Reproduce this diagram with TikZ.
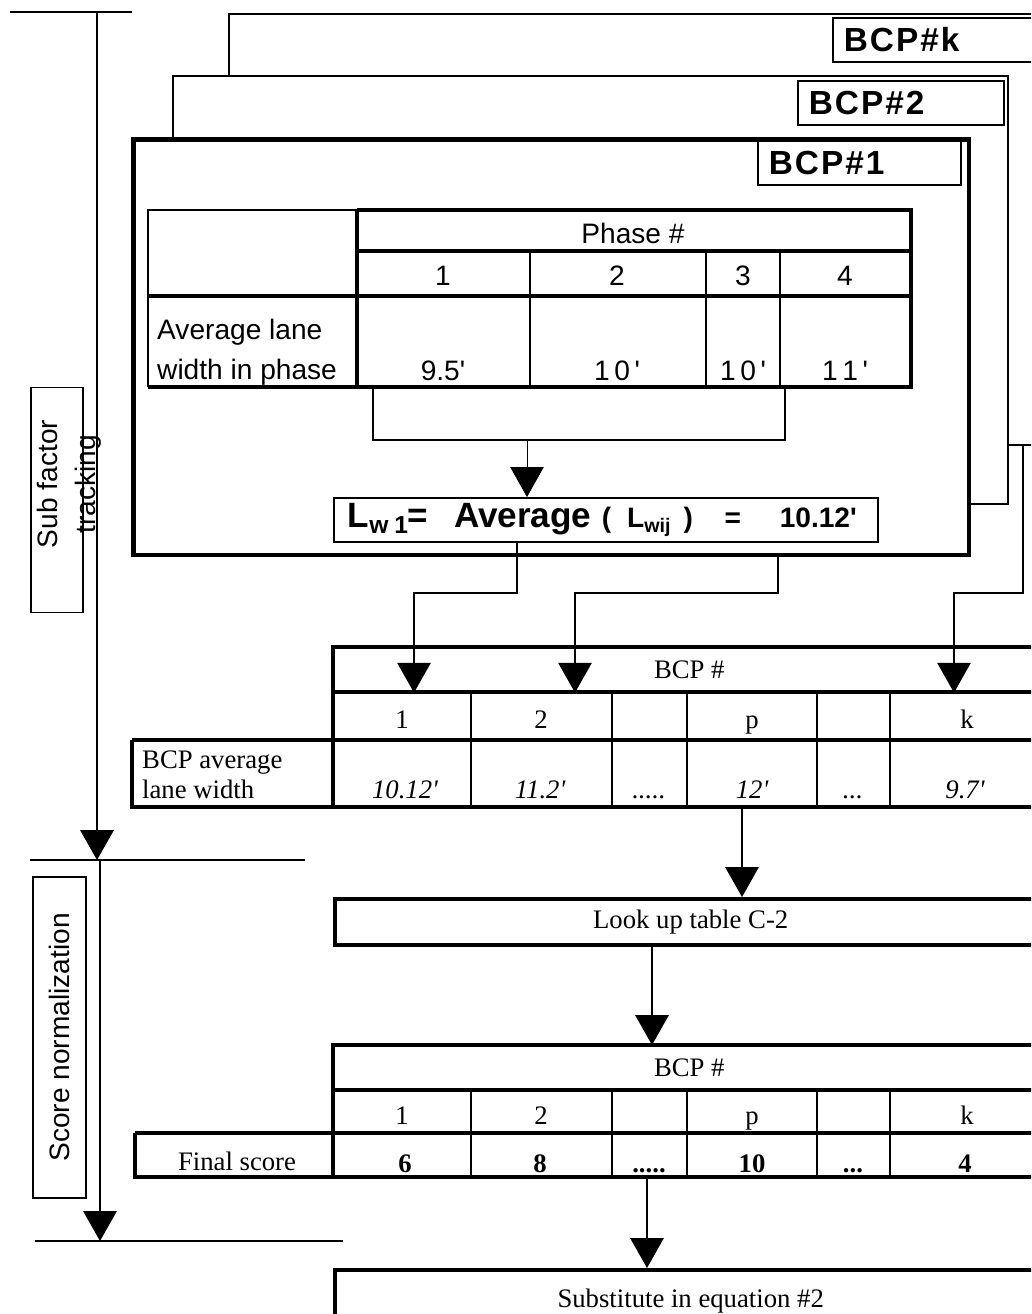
\documentclass[tikz,border=0pt]{standalone}
\usepackage{fontspec}
\setmainfont{Liberation Serif}
\setsansfont{Liberation Sans}
\newfontfamily\tagfont[LetterSpace=6]{Liberation Sans}
\newcommand\fivedots{.....}
\newcommand\threedots{...}
\newcommand\ft{\textquotesingle}
\usetikzlibrary{arrows.meta,calc}

\begin{document}
\begin{tikzpicture}[
    x=0.02cm, y=-0.02cm,
    thin rule/.style={line width=0.9pt},
    thick rule/.style={line width=2.4pt},
    link/.style={line width=0.9pt},
    arr/.style={link, -{Triangle[length=17pt,width=19pt]}},
    sanstxt/.style={font=\sffamily\fontsize{16}{22.5}\selectfont},
    sertxt/.style={font=\rmfamily\fontsize{15.2}{17}\selectfont},
    seritl/.style={font=\rmfamily\itshape\fontsize{15.2}{17}\selectfont},
    serbold/.style={font=\rmfamily\bfseries\fontsize{15.2}{17}\selectfont},
    tagbox/.style={draw, line width=1pt, fill=white, anchor=north west,
                   inner xsep=0.22cm, minimum height=0.88cm, align=left,
                   font=\tagfont\bfseries\fontsize{19}{19}\selectfont},
    stack/.style={draw, fill=white, anchor=north west, inner sep=0pt},
    bar/.style={draw, line width=2pt, anchor=north west, inner sep=0pt,
                minimum width=14.24cm},
    headcell/.style={anchor=north west, inner sep=0pt, minimum width=14.24cm,
                     minimum height=0.9cm, sertxt},
    sidebox/.style={draw, line width=0.9pt, rotate=90, inner sep=0pt, sanstxt}
  ]
  \path[use as bounding box, clip] (0,0) rectangle (1031,1314);

  % stage rules on the left
  \coordinate (topL) at (10,12);   \coordinate (topR) at (132,12);
  \coordinate (midL) at (30,860);  \coordinate (midR) at (305,860);
  \coordinate (lowL) at (35,1241); \coordinate (lowR) at (343,1241);
  \draw[link, line width=1.4pt] (topL) -- (topR);
  \draw[link] (midL) -- (midR);
  \draw[link] (lowL) -- (lowR);

  \node[draw, line width=0.9pt, rotate=90, inner sep=0pt, minimum width=4.5cm,
        minimum height=1.04cm] (sfbox) at (57,500) {};
  \node[rotate=90, align=center, font=\sffamily\fontsize{16}{21.6}\selectfont]
        (sftxt) at (69,484) {Sub factor\\tracking};
  \coordinate (trk) at (97,12);
  \draw[arr, line width=1.2pt] (trk) -- (trk |- midL);

  \node[sidebox, minimum width=6.42cm, minimum height=1.06cm] (snbox)
        at (59.5,1037.5) {Score normalization};
  \coordinate (nrm) at (100,860);
  \draw[arr] (nrm) -- (nrm |- lowL);

  % stacked BCP sheets
  \node[stack, line width=1.2pt, minimum width=16.34cm, minimum height=8.62cm] (bcpk) at (228,13) {};
  \node[tagbox, text width=3.82cm] (tagk) at (832,17) {BCP\#k};
  \node[stack, line width=1pt, minimum width=16.7cm, minimum height=8.56cm] (bcp2) at (172,75) {};
  \node[tagbox, text width=3.68cm] (tag2) at (797,80) {BCP\#2};
  \node[stack, line width=2.6pt, minimum width=16.72cm, minimum height=8.32cm] (bcp1) at (131,137) {};
  \node[tagbox, text width=3.62cm] (tag1) at (757,140) {BCP\#1};

  % phase table
  \draw[thin rule] (357,210) -- (148,210) -- (148,387);
  \draw[thick rule] (357,210) -- (911,210) -- (911,387) -- (148,387);
  \draw[thick rule] (357,210) -- (357,387);
  \draw[thick rule] (357,251) -- (911,251);
  \draw[thick rule] (148,296) -- (911,296);
  \foreach \cx in {530,706,780} \draw[thin rule] (\cx,251) -- (\cx,387);

  \node[sanstxt] (phase) at (633,233) {Phase \#};
  \node[sanstxt, anchor=west, align=left] (avglab) at (151,352) {Average lane\\width in phase};
  \foreach \cx/\ph/\val [count=\i] in {443/1/9.5\ft, 617/2/1\,0\,\ft, 743/3/1\,0\,\ft, 845/4/1\,1\,\ft} {
    \node[sanstxt] (ph\i) at (\cx,276) {\ph};
    \node[sanstxt, anchor=base] (pw\i) at (\cx,380) {\val};
  }

  \coordinate (brL) at (373,387); \coordinate (brR) at (785,387);
  \coordinate (brM) at (527,440);
  \draw[thin rule] (brL) -- (brL |- brM) -- (brR |- brM) -- (brR);

  \node[draw, line width=1pt, anchor=north west, text width=10.32cm, inner xsep=0.28cm,
        minimum height=0.88cm, inner ysep=0pt, align=left, font=\sffamily\bfseries] (lw1) at (333,497)
    {{\fontsize{20}{20}\selectfont L\textsubscript{w 1}\hspace{-1pt}=\hspace{15pt}Average}\hspace{6pt}%
     {\fontsize{16}{16}\selectfont(\hspace{9pt}L\textsubscript{wij}\hspace{7pt})\hspace{18pt}=\hspace{22pt}10.12\ft}};
  \draw[arr, line width=0.4pt] (brM) -- (brM |- lw1.north);

  % lane width per BCP
  \node[headcell] (hd1) at (333,647) {BCP \#};
  \coordinate (x1) at (517,0); \coordinate (x2) at (778,0); \coordinate (x3) at (1023,0);
  \coordinate (j1) at (414,593); \coordinate (j2) at (575,593); \coordinate (j3) at (954,593);
  \draw[arr] (lw1.south -| x1) |- (j1) -- (j1 |- hd1.south);
  \draw[arr] (bcp1.south -| x2) |- (j2) -- (j2 |- hd1.south);
  \draw[arr] (bcpk.south -| x3) |- (j3) -- (j3 |- hd1.south);

  \draw[thick rule] (333,807) -- (333,647) -- (1045,647);
  \draw[thick rule] (333,692) -- (1045,692);
  \draw[thick rule] (132,740) -- (1045,740);
  \draw[thick rule] (132,740) -- (132,807) -- (1045,807);
  \foreach \cx in {471,612,687,817,890} \draw[thin rule] (\cx,692) -- (\cx,807);

  \node[sertxt, anchor=west, align=left] (bcplab) at (136,775) {BCP average\\lane width};
  \foreach \cx/\lab [count=\i] in {402/1, 541/2, 752/p, 967/k}
    \node[sertxt, anchor=base] (n\i) at (\cx,728) {\lab};
  \foreach \cx/\val [count=\i] in {405/10.12\ft, 540/11.2\ft, 649/\fivedots, 752/12\ft, 853/\threedots, 965/9.7\ft}
    \node[seritl, anchor=base] (v\i) at (\cx,798) {\val};

  % normalisation
  \coordinate (t1out) at (742,807);
  \node[bar, minimum height=0.92cm, sertxt] (look) at (333,897) {Look up table C-2};
  \draw[arr] (t1out) -- (t1out |- look.north);

  \node[headcell] (hd2) at (333,1045) {BCP \#};
  \coordinate (x4) at (652,0);
  \draw[arr] (look.south -| x4) -- (hd2.north -| x4);

  \draw[thick rule] (333,1177) -- (333,1045) -- (1045,1045);
  \draw[thick rule] (333,1090) -- (1045,1090);
  \draw[thick rule] (135,1133) -- (1045,1133);
  \draw[thick rule] (135,1133) -- (135,1177) -- (1045,1177);
  \foreach \cx in {471,612,687,817,890} \draw[thin rule] (\cx,1090) -- (\cx,1177);

  \node[sertxt, anchor=base] (finlab) at (237,1170) {Final score};
  \foreach \cx/\lab [count=\i] in {402/1, 541/2, 752/p, 967/k}
    \node[sertxt, anchor=base] (m\i) at (\cx,1124) {\lab};
  \foreach \cx/\val [count=\i] in {405/6, 540/8, 649/\fivedots, 752/10, 853/\threedots, 965/4}
    \node[serbold, anchor=base] (s\i) at (\cx,1172) {\val};

  \coordinate (t2out) at (647,1177);
  \node[bar, minimum height=1.24cm, sertxt] (subst) at (333,1268) {Substitute in equation \#2};
  \draw[arr] (t2out) -- (t2out |- subst.north);
\end{tikzpicture}
\end{document}
